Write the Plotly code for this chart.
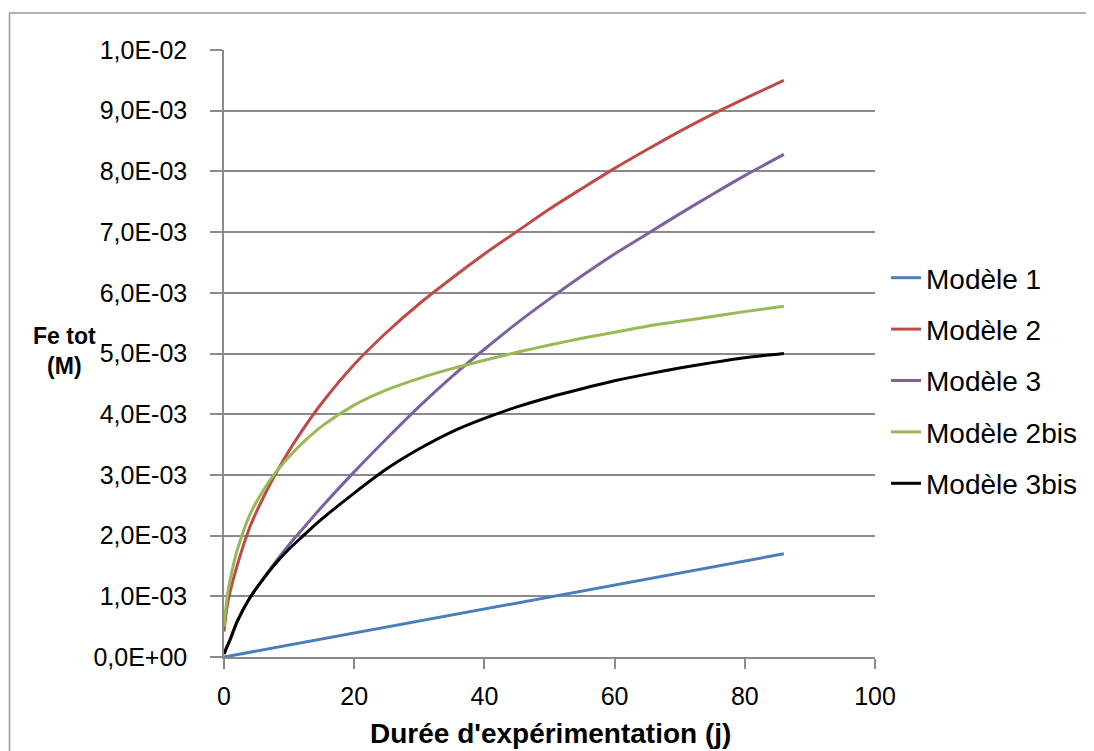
import plotly.graph_objects as go

# Time (days)
t = [0, 0.5, 1, 2, 4, 6, 8, 10, 12, 15, 20, 25, 30, 35, 40, 45, 50, 55, 60, 65, 70, 75, 80, 86]

# Modèle 1 (linear)
t_m1 = [0, 86]
m1 = [0.0, 1.7]

# Modèle 2
m2 = [0.42, 0.85, 1.1, 1.5, 2.15, 2.62, 3.03, 3.4, 3.73, 4.18, 4.82, 5.35, 5.82, 6.24, 6.64,
      7.01, 7.38, 7.72, 8.05, 8.36, 8.66, 8.94, 9.2, 9.5]
# Modèle 3
m3 = [0.05, 0.18, 0.3, 0.58, 0.98, 1.29, 1.58, 1.85, 2.1, 2.47, 3.05, 3.6, 4.13, 4.62, 5.07,
      5.5, 5.9, 6.28, 6.64, 6.97, 7.3, 7.62, 7.93, 8.28]
# Modèle 2bis
m2bis = [0.5, 1.0, 1.3, 1.75, 2.35, 2.74, 3.05, 3.3, 3.52, 3.8, 4.15, 4.40, 4.59, 4.75, 4.89,
         5.02, 5.14, 5.25, 5.35, 5.45, 5.53, 5.61, 5.69, 5.78]
# Modèle 3bis
m3bis = [0.05, 0.18, 0.3, 0.58, 0.98, 1.28, 1.55, 1.78, 1.98, 2.27, 2.7, 3.1, 3.43, 3.71, 3.93,
         4.12, 4.28, 4.42, 4.55, 4.66, 4.76, 4.85, 4.93, 5.0]

scale = 1e-3
y_ticks = [i * 1e-3 for i in range(11)]
y_ticktext = ["0,0E+00", "1,0E-03", "2,0E-03", "3,0E-03", "4,0E-03", "5,0E-03",
              "6,0E-03", "7,0E-03", "8,0E-03", "9,0E-03", "1,0E-02"]
x_ticks = [0, 20, 40, 60, 80, 100]

FONT = "Liberation Sans"
GRID = "#8a8a8a"

fig = go.Figure()
series = [
    ("Modèle 1", t_m1, m1, "#4a7ebb"),
    ("Modèle 2", t, m2, "#be4b48"),
    ("Modèle 3", t, m3, "#7d60a0"),
    ("Modèle 2bis", t, m2bis, "#98b954"),
    ("Modèle 3bis", t, m3bis, "#000000"),
]
for i, (name, xs, ys, col) in enumerate(series):
    fig.add_trace(go.Scatter(
        x=xs, y=[v * scale for v in ys], mode="lines", name=name,
        line=dict(color=col, width=3, shape="spline", smoothing=0.8),
        legendgroup=f"g{i}",
    ))

# page is offset by the 8px body margin
W, H = 1086, 743
L, R, T, B = 216, 867, 42, 649
PW, PH = R - L, B - T

def px(x):
    return (x - L) / PW

def py(y):
    return (B - y) / PH

fig.update_layout(
    width=W, height=H,
    margin=dict(l=L, r=W - R, t=T, b=H - B, autoexpand=False),
    paper_bgcolor="white", plot_bgcolor="white",
    font=dict(family=FONT, size=25, color="black"),
    showlegend=True,
    legend=dict(
        x=px(878), xanchor="left",
        y=py(245), yanchor="top",
        font=dict(family=FONT, size=28, color="black"),
        tracegroupgap=12, itemwidth=30,
        bgcolor="rgba(0,0,0,0)",
    ),
    xaxis=dict(
        range=[0, 100], tickvals=x_ticks, showgrid=False, zeroline=False,
        showline=True, linecolor=GRID, linewidth=1.5,
        ticks="outside", ticklen=10, tickcolor=GRID, tickwidth=1.5,
        ticklabelstandoff=6,
        tickfont=dict(family=FONT, size=25),
    ),
    yaxis=dict(
        range=[0, 0.01], tickvals=y_ticks, ticktext=y_ticktext,
        showgrid=True, gridcolor=GRID, gridwidth=1.5, zeroline=False,
        showline=True, linecolor=GRID, linewidth=1.5,
        ticks="outside", ticklen=12, tickcolor=GRID, tickwidth=1.5,
        ticklabelstandoff=18,
        tickfont=dict(family=FONT, size=25),
    ),
    annotations=[
        dict(text="<b>Fe tot<br>(M)</b>", xref="paper", yref="paper",
             x=px(56), y=py(343), xanchor="center", yanchor="middle",
             showarrow=False, align="center",
             font=dict(family=FONT, size=23, color="black")),
        dict(text="<b>Durée d'expérimentation (j)</b>", xref="paper", yref="paper",
             x=px(542), y=py(725), xanchor="center", yanchor="middle",
             showarrow=False, font=dict(family=FONT, size=28, color="black")),
    ],
    shapes=[
        dict(type="rect", xref="paper", yref="paper",
             x0=px(1.5), x1=px(1110), y0=py(770), y1=py(5),
             line=dict(color="#9a9a9a", width=1.5), fillcolor="rgba(0,0,0,0)", layer="below"),
    ],
)

fig.write_html("out.html")
